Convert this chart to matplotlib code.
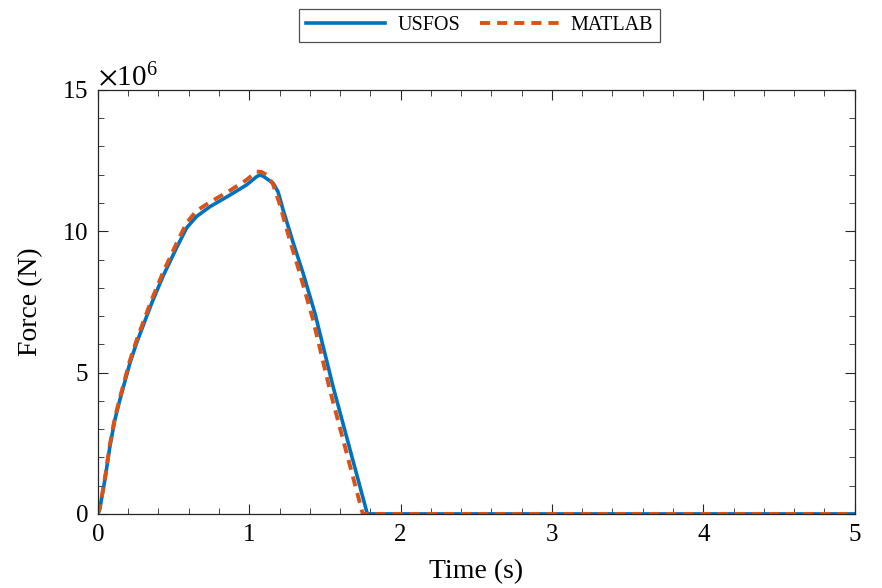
import matplotlib
matplotlib.use("Agg")
import matplotlib.pyplot as plt
from matplotlib.ticker import MultipleLocator, ScalarFormatter
import numpy as np

# data (force in units of 1e6 N)
t_usfos = [0, 0.013, 0.046, 0.079, 0.112, 0.145, 0.178, 0.211, 0.255, 0.31, 0.355,
           0.431, 0.52, 0.586, 0.651, 0.74, 0.872, 0.982, 1.048, 1.07, 1.092,
           1.158, 1.19, 1.224, 1.29, 1.356, 1.434, 1.554, 1.78, 5.0]
f_usfos = [0, 0.2, 1.2, 2.38, 3.33, 4.03, 4.68, 5.33, 6.04, 6.82, 7.45,
           8.42, 9.42, 10.12, 10.52, 10.87, 11.28, 11.64, 11.93, 11.99, 11.95,
           11.7, 11.4, 10.75, 9.6, 8.51, 7.10, 4.5, 0, 0]

t_matlab = [0, 0.013, 0.046, 0.079, 0.112, 0.145, 0.178, 0.211, 0.255, 0.31, 0.355,
            0.431, 0.52, 0.586, 0.651, 0.74, 0.872, 0.982, 1.048, 1.08, 1.12,
            1.158, 1.2, 1.27, 1.334, 1.42, 1.532, 1.75, 5.0]
f_matlab = [0, 0.22, 1.25, 2.45, 3.4, 4.1, 4.76, 5.42, 6.14, 6.94, 7.58,
            8.55, 9.58, 10.3, 10.72, 11.03, 11.44, 11.82, 12.11, 12.1, 11.98,
            11.65, 10.98, 9.65, 8.51, 6.9, 4.4, 0, 0]

plt.rcParams["font.family"] = ["Liberation Serif", "DejaVu Serif"]
plt.rcParams["mathtext.fontset"] = "stix"

fig = plt.figure(figsize=(8.82, 5.88), dpi=100)
ax = fig.add_axes([0.111, 0.126, 0.858, 0.721])

ax.plot(t_usfos, np.array(f_usfos) * 1e6, color="#0072BD", lw=2.6, label="USFOS")
ax.plot(t_matlab, np.array(f_matlab) * 1e6, color="#D95319", lw=2.8,
        ls=(0, (2.6, 1.8)), label="MATLAB")

ax.set_xlim(0, 5)
ax.set_ylim(0, 15e6)
ax.xaxis.set_major_locator(MultipleLocator(1))
ax.xaxis.set_minor_locator(MultipleLocator(0.2))
ax.yaxis.set_major_locator(MultipleLocator(5e6))
ax.yaxis.set_minor_locator(MultipleLocator(1e6))

fmt = ScalarFormatter(useMathText=True)
fmt.set_powerlimits((6, 6))
ax.yaxis.set_major_formatter(fmt)
ax.yaxis.get_offset_text().set_fontsize(21)
ax.yaxis.get_offset_text().set_color("#262626")

ax.tick_params(which="both", direction="in", top=True, right=True,
               labelsize=18, colors="#262626", labelcolor="black")
ax.tick_params(which="major", length=7, pad=7)
ax.tick_params(which="minor", length=4)
for s in ax.spines.values():
    s.set_color("#262626")
    s.set_linewidth(0.9)

ax.set_xlabel("Time (s)", fontsize=20, labelpad=10)
ax.set_ylabel("Force (N)", fontsize=20, labelpad=14)

leg = fig.legend(loc="center", bbox_to_anchor=(0.544, 0.957), ncol=2,
                 fontsize=14.5, frameon=True, fancybox=False, edgecolor="#262626",
                 handlelength=3.9, columnspacing=1.0, handletextpad=0.6,
                 borderpad=0.35)
leg.get_frame().set_linewidth(0.9)

fig.savefig("out.png", dpi=100)
